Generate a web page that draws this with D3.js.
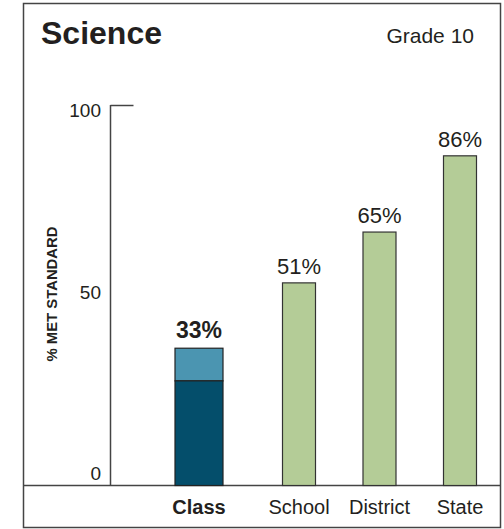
<!DOCTYPE html>
<html>
<head>
<meta charset="utf-8">
<script src="https://cdn.jsdelivr.net/npm/d3@7"></script>
<style>
  body { margin: 0; background: #fff; }
  text { font-family: "Liberation Sans", Arial, Helvetica, sans-serif; fill: #231f20; }
</style>
</head>
<body>
<div id="chart"></div>
<script>
// data
var subject = "Science";
var grade = "Grade 10";
var classLabel = "Class";
var classTotal = 33;      // % met standard, whole bar
var classLower = 24;      // dark lower segment
var compareNames = ["School", "District", "State"];
var compareValues = [51, 65, 86];
var yTicks = [0, 50, 100];
var yTitle = "% MET STANDARD";

var W = 504, H = 529;
var box = {left: 23.5, top: 3.5, right: 500.5, bottom: 527.5};
var baseY = 485.5, axisX = 110.5;

var svg = d3.select("#chart").append("svg")
    .attr("width", W)
    .attr("height", H);

// outer frame
svg.append("rect")
    .attr("x", box.left).attr("y", box.top)
    .attr("width", box.right - box.left)
    .attr("height", box.bottom - box.top)
    .attr("fill", "none")
    .attr("stroke", "#444")
    .attr("stroke-width", 1.5);

// scales
var y = d3.scaleLinear().domain([0, 100]).range([468, 105]);
var x = d3.scalePoint().domain(compareNames).range([299, 460]);
var classX = 199;

// titles
svg.append("text")
    .attr("x", 41).attr("y", 44)
    .style("font-size", "32px").style("font-weight", "bold")
    .text(subject);

svg.append("text")
    .attr("x", 474).attr("y", 43)
    .attr("text-anchor", "end")
    .style("font-size", "21px")
    .text(grade);

// baseline across the frame
svg.append("line")
    .attr("x1", box.left).attr("x2", box.right)
    .attr("y1", baseY).attr("y2", baseY)
    .attr("stroke", "#444").attr("stroke-width", 1.5);

// y axis line + top tick
svg.append("line")
    .attr("x1", axisX).attr("x2", axisX)
    .attr("y1", y(100)).attr("y2", baseY)
    .attr("stroke", "#444").attr("stroke-width", 1.5);
svg.append("line")
    .attr("x1", axisX).attr("x2", axisX + 23)
    .attr("y1", y(100) + 0.5).attr("y2", y(100) + 0.5)
    .attr("stroke", "#444").attr("stroke-width", 1.5);

// tick labels
svg.selectAll(".ytick")
    .data(yTicks)
  .enter().append("text")
    .attr("class", "ytick")
    .attr("x", 101)
    .attr("y", function(d) { return y(d) + 12; })
    .attr("text-anchor", "end")
    .style("font-size", "19px")
    .text(function(d) { return d; });

// y axis title
svg.append("text")
    .attr("transform", "translate(57,294) rotate(-90)")
    .attr("text-anchor", "middle")
    .style("font-size", "14px").style("font-weight", "bold")
    .attr("textLength", 135)
    .attr("lengthAdjust", "spacingAndGlyphs")
    .text(yTitle);

// class bar (two segments)
var classW = 48;
svg.append("rect")
    .attr("x", classX - classW / 2).attr("y", y(classTotal))
    .attr("width", classW).attr("height", y(classLower) - y(classTotal))
    .attr("fill", "#4b95b1").attr("stroke", "#222").attr("stroke-width", 1.2);
svg.append("rect")
    .attr("x", classX - classW / 2).attr("y", y(classLower))
    .attr("width", classW).attr("height", baseY - y(classLower))
    .attr("fill", "#044e6b").attr("stroke", "#222").attr("stroke-width", 1.2);

svg.append("text")
    .attr("x", classX).attr("y", y(classTotal) - 10)
    .attr("text-anchor", "middle")
    .style("font-size", "23px").style("font-weight", "bold")
    .text(classTotal + "%");

svg.append("text")
    .attr("x", classX).attr("y", 514)
    .attr("text-anchor", "middle")
    .style("font-size", "20px").style("font-weight", "bold")
    .text(classLabel);

// comparison bars
var barW = 33;
var comp = compareNames.map(function(n, i) { return {name: n, value: compareValues[i]}; });

svg.selectAll(".bar")
    .data(comp)
  .enter().append("rect")
    .attr("class", "bar")
    .attr("x", function(d) { return x(d.name) - barW / 2; })
    .attr("y", function(d) { return y(d.value); })
    .attr("width", barW)
    .attr("height", function(d) { return baseY - y(d.value); })
    .attr("fill", "#b4cc97")
    .attr("stroke", "#333")
    .attr("stroke-width", 1.2);

svg.selectAll(".val")
    .data(comp)
  .enter().append("text")
    .attr("class", "val")
    .attr("x", function(d) { return x(d.name); })
    .attr("y", function(d) { return y(d.value) - 9; })
    .attr("text-anchor", "middle")
    .style("font-size", "22px")
    .text(function(d) { return d.value + "%"; });

svg.selectAll(".cat")
    .data(comp)
  .enter().append("text")
    .attr("class", "cat")
    .attr("x", function(d) { return x(d.name); })
    .attr("y", 514)
    .attr("text-anchor", "middle")
    .style("font-size", "20px")
    .text(function(d) { return d.name; });
</script>
</body>
</html>
